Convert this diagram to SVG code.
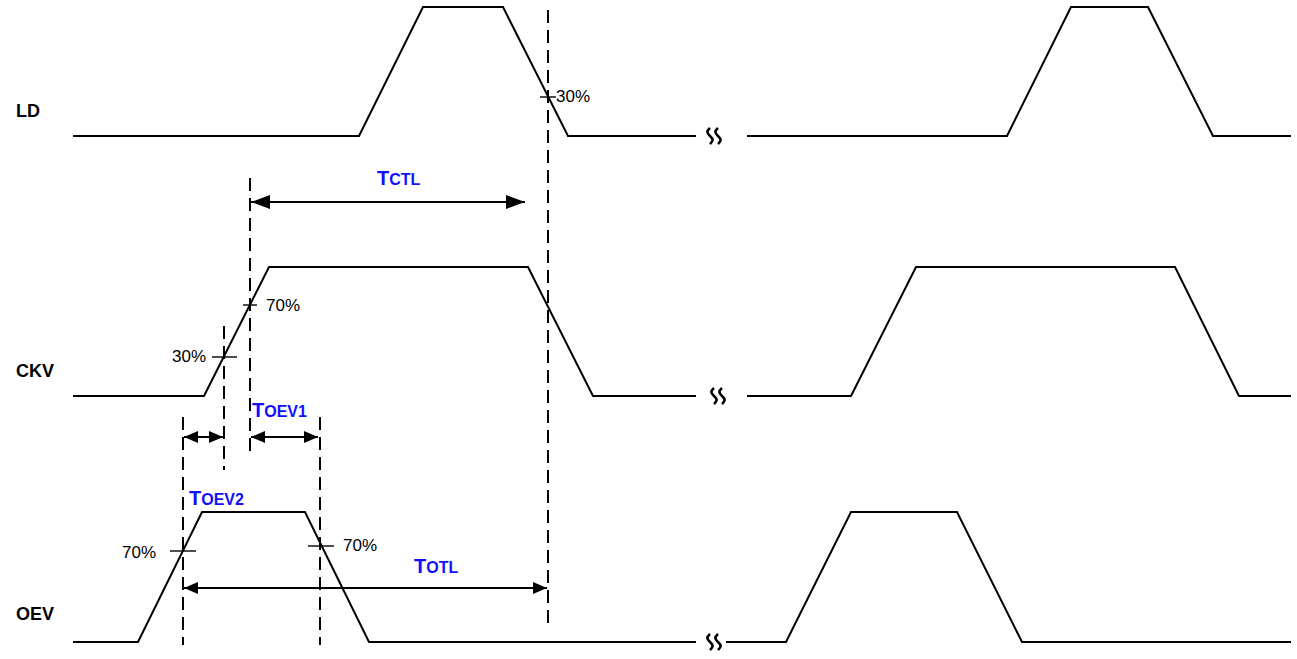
<svg xmlns="http://www.w3.org/2000/svg" width="1297" height="659" viewBox="0 0 1297 659">
<style>
.sig{fill:none;stroke:#000;stroke-width:2;stroke-linejoin:miter}
.dash{fill:none;stroke:#000;stroke-width:2;stroke-dasharray:13,7}
.tick{stroke:#000;stroke-width:1.4}
.dim{stroke:#000;stroke-width:2;fill:none}
.brk{fill:none;stroke:#000;stroke-width:2.6}
.lbl{font-family:"Liberation Sans",Arial,sans-serif;font-weight:bold;font-size:18px;fill:#000}
.pct{font-family:"Liberation Sans",Arial,sans-serif;font-size:17px;fill:#000}
.t{font-family:"Liberation Sans",Arial,sans-serif;font-weight:bold;fill:#1010ff}
</style>
<defs>
<marker id="ah" viewBox="0 0 14 12" refX="14" refY="6" markerWidth="14" markerHeight="12" markerUnits="userSpaceOnUse" orient="auto-start-reverse">
<path d="M0,0 L14,6 L0,12 z" fill="#000"/>
</marker>
<marker id="ahL" viewBox="0 0 19 14" refX="19" refY="7" markerWidth="19" markerHeight="14" markerUnits="userSpaceOnUse" orient="auto-start-reverse">
<path d="M0,0 L19,7 L0,14 z" fill="#000"/>
</marker>
<path id="sq" d="M0,-8 c-3.5,3 -3.5,5 0,8 c3.5,3 3.5,5 0,8"/>
</defs>
<rect width="1297" height="659" fill="#fff"/>

<g id="LD">
<text class="lbl" x="16" y="117">LD</text>
<polyline class="sig" points="73,136 359,136 423,7 503,7 568,136 696,136"/>
<polyline class="sig" points="747,136 1007,136 1071,7 1148,7 1213,136 1291,136"/>
<g class="brk"><use href="#sq" x="710" y="136"/><use href="#sq" x="718" y="136"/></g>
</g>

<g id="CKV">
<text class="lbl" x="16" y="377">CKV</text>
<polyline class="sig" points="73,396 204,396 269,267 528,267 593,396 696,396"/>
<polyline class="sig" points="747,396 851,396 916,267 1175,267 1239,396 1291,396"/>
<g class="brk"><use href="#sq" x="714" y="396"/><use href="#sq" x="722" y="396"/></g>
</g>

<g id="OEV">
<text class="lbl" x="16" y="620">OEV</text>
<polyline class="sig" points="73,642 138,642 202,512 305,512 369,642 696,642"/>
<polyline class="sig" points="726,642 786,642 851,512 957,512 1022,642 1291,642"/>
<g class="brk"><use href="#sq" x="710" y="642"/><use href="#sq" x="718" y="642"/></g>
</g>

<g id="connectors">
<line class="dash" x1="548" y1="10" x2="548" y2="625"/>
<line class="dash" x1="250" y1="178" x2="250" y2="455"/>
<line class="dash" x1="224" y1="326" x2="224" y2="470"/>
<line class="dash" x1="183" y1="417" x2="183" y2="645"/>
<line class="dash" x1="320" y1="417" x2="320" y2="645"/>

<line class="tick" x1="540" y1="97" x2="556" y2="97"/>
<line class="tick" x1="243" y1="305" x2="257" y2="305"/>
<line class="tick" x1="212" y1="357" x2="237" y2="357"/>
<line class="tick" x1="170" y1="551" x2="196" y2="551"/>
<line class="tick" x1="308" y1="546" x2="334" y2="546"/>

<line class="dim" x1="251" y1="202" x2="525" y2="202" marker-start="url(#ahL)" marker-end="url(#ahL)"/>
<line class="dim" x1="184" y1="437" x2="223" y2="437" marker-start="url(#ah)" marker-end="url(#ah)"/>
<line class="dim" x1="251" y1="437" x2="318" y2="437" marker-start="url(#ah)" marker-end="url(#ah)"/>
<line class="dim" x1="184" y1="588" x2="547" y2="588" marker-start="url(#ah)" marker-end="url(#ah)"/>
</g>

<g id="labels">
<text class="pct" x="556" y="102">30%</text>
<text class="pct" x="266" y="311">70%</text>
<text class="pct" x="172" y="362">30%</text>
<text class="pct" x="122" y="558">70%</text>
<text class="pct" x="343" y="551">70%</text>
<text class="t" x="377" y="185"><tspan font-size="20">T</tspan><tspan font-size="16">CTL</tspan></text>
<text class="t" x="252" y="417"><tspan font-size="20">T</tspan><tspan font-size="16">OEV1</tspan></text>
<text class="t" x="189" y="505"><tspan font-size="20">T</tspan><tspan font-size="16">OEV2</tspan></text>
<text class="t" x="414" y="573"><tspan font-size="20">T</tspan><tspan font-size="16">OTL</tspan></text>
</g>
</svg>
